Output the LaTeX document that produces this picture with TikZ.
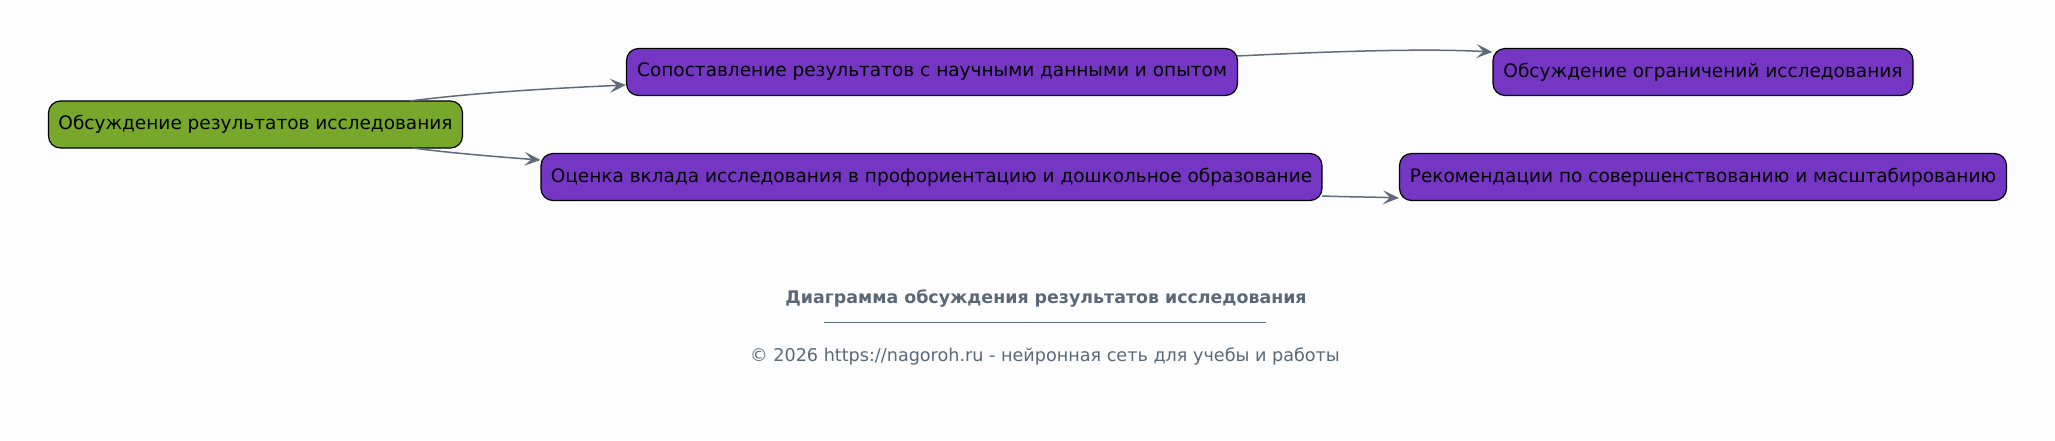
\documentclass[tikz,border=0pt]{standalone}
\usepackage{fontspec}
\setmainfont{DejaVu Sans}
\usetikzlibrary{arrows.meta}
\definecolor{bg}{HTML}{FDFDFD}
\definecolor{rootgreen}{HTML}{77A82B}
\definecolor{boxpurple}{HTML}{7536C4}
\definecolor{edgegray}{HTML}{5F6B7A}
\definecolor{capgray}{HTML}{5A6878}
\tikzset{
  box/.style={draw=black, line width=1.2pt, rounded corners=12pt, inner sep=0pt,
    minimum height=47pt, font=\fontsize{18.5}{22}\selectfont, text=black},
  rootbox/.style={box, fill=rootgreen},
  leafbox/.style={box, fill=boxpurple},
  conn/.style={draw=edgegray, line width=1.5pt,
    -{Stealth[length=16pt, width=14pt, inset=7pt]}},
  captitle/.style={text=capgray, font=\bfseries\fontsize{17.4}{20}\selectfont},
  capnote/.style={text=capgray, font=\fontsize{17.6}{20}\selectfont}
}
\begin{document}
\begin{tikzpicture}[x=1pt,y=-1pt]
\fill[bg] (0,0) rectangle (2055,440);
\useasboundingbox (0,0) rectangle (2055,440);
\node[rootbox, minimum width=414pt] (root) at (255.5,124.5) {Обсуждение результатов исследования};
\node[leafbox, minimum width=611pt] (cmp) at (932,72) {Сопоставление результатов с научными данными и опытом};
\node[leafbox, minimum width=781pt] (eval) at (931.5,177) {Оценка вклада исследования в профориентацию и дошкольное образование};
\node[leafbox, minimum width=420pt] (lim) at (1703,72) {Обсуждение ограничений исследования};
\node[leafbox, minimum width=607pt] (rec) at (1703,177) {Рекомендации по совершенствованию и масштабированию};
\coordinate (r1) at (410,101);
\coordinate (r2) at (413,148);
\coordinate (c1) at (1237,56);
\coordinate (e1) at (1322,196);
\draw[conn] (r1) .. controls (480,92) and (560,88) .. (cmp.west |- 0,85);
\draw[conn] (r2) .. controls (450,153) and (500,157) .. (eval.west |- 0,160);
\draw[conn] (c1) .. controls (1320,52) and (1420,48) .. (lim.west |- 0,52);
\draw[conn] (e1) .. controls (1350,197) and (1375,197) .. (rec.west |- 0,198);
\node[captitle] (title) at (1046,298.5) {Диаграмма обсуждения результатов исследования};
\node[inner sep=0pt] (rule) at (1045,322) {\color{capgray}\rule{442pt}{0.9pt}};
\node[capnote] (copy) at (1045,356.5) {© 2026 https://nagoroh.ru - нейронная сеть для учебы и работы};
\end{tikzpicture}
\end{document}
